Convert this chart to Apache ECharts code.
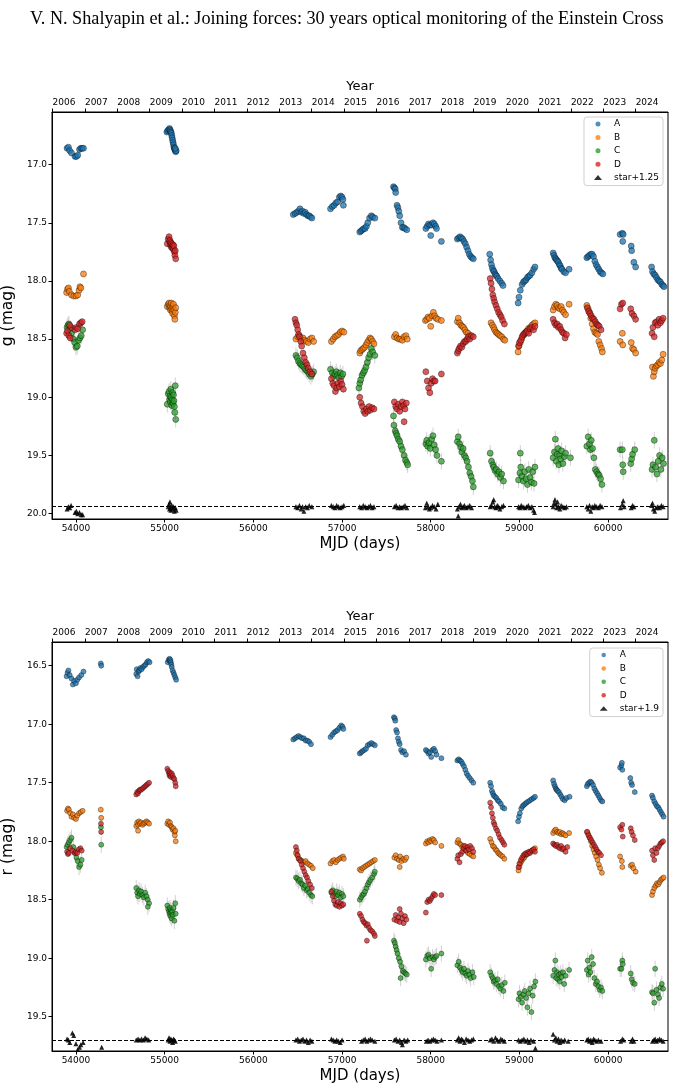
<!DOCTYPE html>
<html>
<head>
<meta charset="utf-8">
<script src="https://cdn.jsdelivr.net/npm/echarts@6/dist/echarts.min.js"></script>
<style>
html, body { margin: 0; padding: 0; background: #fff; }
#chart { width: 676px; height: 1092px; }
</style>
</head>
<body>
<div id="chart"></div>
<script>
// axis ticks
var mjdTicks = [54000, 55000, 56000, 57000, 58000, 59000, 60000];
var yearTicks = [53736, 54101, 54466, 54832, 55197, 55562, 55927, 56293, 56658, 57023, 57388, 57754, 58119, 58484, 58849, 59215, 59580, 59945, 60310];
var yearLabels = ['2006', '2007', '2008', '2009', '2010', '2011', '2012', '2013', '2014', '2015', '2016', '2017', '2018', '2019', '2020', '2021', '2022', '2023', '2024'];
var gTicks = [17.0, 17.5, 18.0, 18.5, 19.0, 19.5, 20.0];
var rTicks = [16.5, 17.0, 17.5, 18.0, 18.5, 19.0, 19.5];
var gStarLevel = 19.936;
var rStarLevel = 19.70;
// typical error bar half-lengths (A, B, C, D, star)
var gErr = [0.02, 0.025, 0.07, 0.03, 0.02];
var rErr = [0.015, 0.02, 0.07, 0.025, 0.015];

// g band  [MJD, mag]
var gA = [[53900,16.86],[53915,16.85],[53930,16.88],[53950,16.90],[53990,16.93],[54005,16.93],[54020,16.92],[54040,16.87],[54055,16.86],[54070,16.86],[54085,16.86],
  [55025,16.72],[55035,16.71],[55045,16.70],[55055,16.69],[55060,16.70],[55065,16.71],[55070,16.72],[55075,16.73],[55080,16.75],[55085,16.77],[55090,16.79],[55095,16.81],[55100,16.83],[55105,16.85],[55110,16.86],[55115,16.87],[55120,16.88],[55125,16.89],[55130,16.88],[55120,16.86],
  [56450,17.43],[56470,17.42],[56490,17.41],[56510,17.40],[56525,17.38],[56540,17.41],[56555,17.40],[56570,17.42],[56585,17.41],[56600,17.43],[56615,17.44],[56630,17.44],[56645,17.45],[56660,17.46],
  [56870,17.38],[56890,17.36],[56910,17.35],[56930,17.33],[56950,17.32],[56970,17.28],[56985,17.27],[57000,17.28],[57010,17.30],[57015,17.35],
  [57200,17.58],[57215,17.57],[57230,17.56],[57245,17.55],[57260,17.55],[57275,17.53],[57290,17.50],[57310,17.46],[57330,17.44],[57345,17.45],[57370,17.46],
  [57580,17.19],[57590,17.20],[57600,17.21],[57605,17.24],[57620,17.35],[57630,17.37],[57640,17.40],[57650,17.44],[57665,17.50],[57680,17.54],[57695,17.54],[57710,17.55],[57730,17.56],
  [57945,17.55],[57960,17.53],[57975,17.51],[57990,17.52],[58000,17.61],[58010,17.52],[58025,17.50],[58040,17.51],[58055,17.53],[58065,17.55],[58120,17.66],
  [58300,17.64],[58315,17.63],[58330,17.62],[58345,17.63],[58360,17.64],[58375,17.66],[58390,17.68],[58405,17.71],[58420,17.74],[58435,17.77],[58450,17.79],[58465,17.80],[58480,17.81],
  [58665,17.77],[58675,17.82],[58685,17.86],[58695,17.89],[58705,17.91],[58715,17.92],[58725,17.94],[58735,17.95],[58745,17.96],[58760,17.98],[58780,18.00],[58800,18.02],[58815,18.04],
  [58985,18.19],[58995,18.14],[59010,18.08],[59030,18.03],[59045,18.01],[59060,18.00],[59075,17.99],[59090,17.97],[59105,17.96],[59120,17.95],[59140,17.93],[59160,17.90],[59175,17.88],
  [59380,17.76],[59390,17.78],[59400,17.80],[59410,17.81],[59420,17.82],[59430,17.83],[59440,17.84],[59450,17.86],[59460,17.87],[59470,17.89],[59480,17.90],[59500,17.92],[59520,17.93],[59560,17.90],
  [59760,17.80],[59775,17.79],[59790,17.78],[59805,17.77],[59820,17.77],[59835,17.79],[59850,17.83],[59865,17.86],[59880,17.88],[59895,17.90],[59910,17.92],[59925,17.93],[59940,17.94],
  [60135,17.60],[60160,17.59],[60170,17.60],[60165,17.66],[60260,17.70],[60265,17.74],[60290,17.84],[60310,17.88],
  [60490,17.88],[60500,17.92],[60515,17.94],[60530,17.95],[60545,17.97],[60560,17.99],[60575,18.00],[60590,18.01],[60605,18.03],[60620,18.04],[60630,18.05]];

var gB = [[53895,18.10],[53905,18.07],[53915,18.06],[53925,18.09],[53950,18.12],[53975,18.13],[54000,18.13],[54020,18.12],[54035,18.08],[54045,18.05],[54055,18.06],[54085,17.94],
  [55030,18.22],[55040,18.20],[55050,18.19],[55055,18.23],[55060,18.21],[55065,18.25],[55070,18.22],[55075,18.19],[55080,18.24],[55085,18.26],[55090,18.28],[55095,18.22],[55100,18.20],[55105,18.25],[55110,18.30],[55115,18.33],[55120,18.27],[55125,18.23],
  [56480,18.50],[56500,18.48],[56520,18.47],[56540,18.50],[56560,18.49],[56580,18.51],[56600,18.52],[56620,18.53],[56640,18.50],[56660,18.49],[56680,18.52],
  [56880,18.52],[56900,18.50],[56920,18.48],[56940,18.47],[56960,18.46],[56980,18.44],[57000,18.43],[57020,18.44],
  [57200,18.62],[57210,18.60],[57225,18.59],[57240,18.58],[57255,18.57],[57270,18.55],[57285,18.53],[57300,18.51],[57315,18.49],[57330,18.50],[57345,18.52],[57360,18.54],
  [57590,18.48],[57605,18.46],[57620,18.49],[57640,18.50],[57660,18.50],[57680,18.51],[57700,18.48],[57720,18.47],[57735,18.50],
  [57940,18.34],[57955,18.33],[57970,18.31],[57985,18.32],[58000,18.39],[58015,18.30],[58030,18.27],[58045,18.30],[58060,18.32],[58080,18.33],[58120,18.34],
  [58300,18.35],[58310,18.32],[58325,18.36],[58340,18.38],[58355,18.39],[58370,18.40],[58385,18.42],[58400,18.44],[58420,18.45],[58440,18.47],
  [58680,18.36],[58695,18.38],[58710,18.40],[58720,18.42],[58735,18.44],[58750,18.45],[58765,18.46],[58780,18.47],[58800,18.48],[58820,18.50],[58835,18.51],
  [58985,18.61],[58995,18.56],[59010,18.53],[59025,18.50],[59040,18.47],[59055,18.46],[59070,18.44],[59085,18.43],[59100,18.41],[59120,18.40],[59140,18.38],[59160,18.37],[59175,18.36],
  [59380,18.25],[59395,18.22],[59410,18.20],[59425,18.21],[59440,18.23],[59455,18.24],[59470,18.22],[59485,18.25],[59500,18.27],[59520,18.29],[59560,18.20],
  [59760,18.21],[59775,18.24],[59790,18.27],[59805,18.32],[59820,18.37],[59835,18.41],[59850,18.44],[59865,18.45],[59880,18.46],[59895,18.52],[59910,18.55],[59925,18.58],[59935,18.61],
  [60135,18.52],[60160,18.45],[60165,18.55],[60260,18.53],[60275,18.58],[60290,18.59],[60310,18.62],
  [60500,18.74],[60510,18.82],[60520,18.78],[60530,18.75],[60545,18.73],[60560,18.72],[60575,18.70],[60590,18.71],[60605,18.68],[60620,18.63]];

var gC = [[53900,18.40],[53910,18.38],[53920,18.37],[53935,18.41],[53950,18.45],[53970,18.50],[53985,18.53],[54000,18.57],[54015,18.56],[54030,18.51],[54045,18.49],[54060,18.47],[54075,18.42],
  [55030,19.06],[55040,18.97],[55050,18.95],[55055,19.02],[55060,18.99],[55065,19.04],[55070,18.93],[55075,19.00],[55080,19.07],[55085,19.02],[55090,18.96],[55095,19.05],[55100,18.98],[55105,19.03],[55110,19.08],[55115,19.13],[55120,18.90],[55125,19.19],
  [56480,18.64],[56495,18.66],[56510,18.69],[56525,18.71],[56540,18.72],[56555,18.73],[56570,18.74],[56585,18.76],[56600,18.77],[56615,18.78],[56630,18.80],[56650,18.82],[56665,18.80],[56680,18.78],
  [56870,18.76],[56890,18.79],[56905,18.82],[56920,18.80],[56935,18.78],[56950,18.81],[56965,18.83],[56980,18.79],[56995,18.82],[57010,18.80],
  [57190,18.92],[57200,18.88],[57210,18.85],[57225,18.81],[57240,18.79],[57255,18.77],[57270,18.74],[57285,18.70],[57300,18.66],[57315,18.63],[57330,18.58],[57345,18.61],[57370,18.64],
  [57580,19.16],[57585,19.24],[57600,19.29],[57610,19.31],[57620,19.33],[57635,19.36],[57650,19.38],[57665,19.42],[57680,19.45],[57700,19.50],[57715,19.54],[57730,19.56],[57740,19.58],
  [57945,19.40],[57955,19.37],[57965,19.42],[57980,19.39],[57995,19.44],[58010,19.36],[58025,19.33],[58040,19.41],[58055,19.45],[58070,19.50],[58120,19.55],
  [58300,19.38],[58310,19.34],[58325,19.40],[58340,19.43],[58350,19.47],[58365,19.44],[58380,19.50],[58395,19.52],[58410,19.55],[58425,19.60],[58440,19.65],[58455,19.68],[58470,19.72],[58480,19.77],
  [58670,19.48],[58685,19.55],[58700,19.58],[58710,19.60],[58725,19.63],[58740,19.62],[58755,19.66],[58770,19.64],[58785,19.69],[58800,19.66],[58820,19.72],
  [58990,19.71],[59005,19.65],[59015,19.60],[59030,19.68],[59045,19.72],[59060,19.64],[59075,19.70],[59090,19.75],[59105,19.62],[59120,19.69],[59135,19.73],[59150,19.64],[59165,19.74],[59175,19.60],[59010,19.48],
  [59380,19.52],[59395,19.47],[59405,19.36],[59415,19.55],[59425,19.49],[59435,19.44],[59445,19.58],[59455,19.50],[59465,19.53],[59475,19.46],[59490,19.57],[59505,19.51],[59520,19.48],[59575,19.52],
  [59760,19.42],[59775,19.34],[59790,19.40],[59800,19.45],[59810,19.37],[59825,19.44],[59840,19.52],[59855,19.62],[59870,19.64],[59885,19.66],[59900,19.67],[59915,19.70],[59930,19.75],
  [60135,19.45],[60160,19.45],[60165,19.58],[60170,19.64],[60255,19.57],[60265,19.53],[60275,19.49],[60300,19.45],
  [60495,19.62],[60505,19.58],[60520,19.37],[60535,19.60],[60550,19.66],[60565,19.55],[60580,19.50],[60595,19.62],[60610,19.52],[60625,19.57]];

var gD = [[53895,18.45],[53905,18.43],[53920,18.47],[53935,18.49],[53950,18.40],[53990,18.42],[54005,18.40],[54020,18.41],[54040,18.37],[54055,18.36],[54070,18.35],[53930,18.38],
  [55030,17.68],[55040,17.64],[55050,17.62],[55055,17.66],[55060,17.65],[55065,17.69],[55070,17.67],[55075,17.71],[55080,17.68],[55085,17.70],[55090,17.72],[55095,17.69],[55100,17.73],[55105,17.70],[55110,17.75],[55115,17.78],[55120,17.74],[55125,17.81],
  [56470,18.33],[56480,18.36],[56490,18.38],[56500,18.42],[56510,18.46],[56520,18.48],[56535,18.52],[56545,18.56],[56560,18.62],[56575,18.66],[56590,18.70],[56605,18.72],[56620,18.75],[56640,18.78],[56660,18.80],
  [56880,18.84],[56895,18.88],[56910,18.90],[56925,18.95],[56940,18.92],[56955,18.88],[56970,18.91],[56985,18.86],[57000,18.89],[57015,18.93],
  [57200,19.00],[57215,19.05],[57230,19.08],[57245,19.12],[57260,19.14],[57275,19.10],[57290,19.12],[57305,19.08],[57320,19.11],[57340,19.09],[57360,19.10],
  [57590,19.04],[57605,19.08],[57620,19.10],[57635,19.06],[57650,19.12],[57665,19.08],[57680,19.04],[57695,19.07],[57710,19.10],[57725,19.05],[57700,19.21],
  [57945,18.78],[57960,18.86],[57975,18.92],[57990,18.96],[58005,18.88],[58020,18.84],[58035,18.86],[58050,18.86],[58120,18.80],
  [58300,18.62],[58310,18.60],[58320,18.58],[58335,18.56],[58350,18.57],[58365,18.54],[58380,18.52],[58395,18.52],[58410,18.50],[58425,18.48],[58440,18.50],[58460,18.47],[58480,18.48],
  [58670,17.98],[58680,18.02],[58690,18.07],[58700,18.12],[58710,18.15],[58720,18.18],[58735,18.21],[58750,18.24],[58765,18.27],[58780,18.29],[58795,18.31],[58810,18.34],[58830,18.37],
  [58990,18.56],[59000,18.53],[59015,18.51],[59030,18.48],[59045,18.46],[59060,18.45],[59075,18.44],[59090,18.43],[59105,18.45],[59120,18.41],[59140,18.40],[59160,18.42],[59175,18.39],
  [59380,18.33],[59395,18.36],[59410,18.38],[59425,18.37],[59440,18.40],[59455,18.39],[59470,18.42],[59485,18.44],[59500,18.45],[59515,18.49],[59530,18.46],
  [59765,18.23],[59780,18.26],[59795,18.28],[59810,18.30],[59825,18.32],[59840,18.33],[59855,18.35],[59870,18.37],[59885,18.38],[59900,18.39],[59920,18.42],
  [60135,18.24],[60150,18.20],[60165,18.19],[60255,18.24],[60270,18.28],[60290,18.30],[60310,18.33],
  [60495,18.45],[60505,18.40],[60520,18.48],[60530,18.36],[60545,18.35],[60560,18.38],[60575,18.33],[60590,18.36],[60605,18.34],[60620,18.32]];

var gStar = [[53900,19.96],[53915,19.94],[53930,19.95],[53945,19.93],[53990,19.99],[54005,19.98],[54020,20.00],[54040,19.99],[54060,20.01],[54075,20.01],
  [55040,19.94],[55050,19.92],[55055,19.96],[55060,19.90],[55065,19.95],[55070,19.97],[55080,19.93],[55090,19.96],[55100,19.94],[55110,19.98],[55120,19.95],[55130,19.97],
  [56480,19.94],[56500,19.95],[56520,19.93],[56540,19.96],[56555,19.94],[56570,19.98],[56590,19.94],[56610,19.95],[56630,19.93],[56660,19.94],
  [56880,19.93],[56900,19.94],[56920,19.95],[56940,19.93],[56960,19.94],[56980,19.95],[57000,19.94],[57020,19.93],
  [57200,19.94],[57220,19.95],[57240,19.93],[57260,19.94],[57280,19.95],[57300,19.94],[57320,19.93],[57340,19.95],[57360,19.94],
  [57590,19.94],[57610,19.93],[57630,19.95],[57650,19.94],[57670,19.95],[57690,19.94],[57710,19.93],[57730,19.95],
  [57940,19.95],[57955,19.91],[57970,19.94],[57985,19.96],[58000,19.95],[58020,19.93],[58040,19.94],[58060,19.96],[58080,19.92],
  [58300,19.96],[58310,20.02],[58320,19.94],[58335,19.92],[58350,19.95],[58365,19.94],[58380,19.93],[58400,19.95],[58420,19.94],[58440,19.93],[58460,19.95],
  [58670,19.94],[58685,19.93],[58700,19.90],[58710,19.88],[58720,19.94],[58735,19.95],[58750,19.93],[58765,19.94],[58780,19.96],[58800,19.94],[58820,19.93],
  [58990,19.94],[59005,19.95],[59020,19.93],[59040,19.94],[59060,19.95],[59080,19.94],[59100,19.93],[59120,19.95],[59140,19.94],[59160,19.97],[59170,19.99],
  [59380,19.94],[59390,19.91],[59400,19.88],[59410,19.92],[59420,19.95],[59430,19.90],[59440,19.94],[59455,19.96],[59470,19.93],[59490,19.94],[59510,19.95],[59530,19.94],
  [59760,19.94],[59775,19.96],[59790,19.93],[59805,19.98],[59820,19.94],[59835,19.95],[59850,19.93],[59870,19.94],[59890,19.95],[59910,19.93],[59930,19.94],
  [60140,19.95],[60160,19.92],[60170,19.89],[60180,19.94],[60260,19.95],[60275,19.93],[60290,19.94],
  [60490,19.93],[60500,19.91],[60510,19.96],[60525,19.98],[60540,19.95],[60560,19.94],[60580,19.95],[60600,19.93],[60620,19.94]];

// r band  [MJD, mag]
var rA = [[53895,16.59],[53905,16.56],[53915,16.54],[53930,16.58],[53950,16.61],[53965,16.66],[53980,16.63],[54000,16.65],[54015,16.62],[54035,16.60],[54060,16.58],[54085,16.55],
  [54280,16.48],[54285,16.50],
  [54680,16.57],[54685,16.53],[54695,16.59],[54705,16.55],[54715,16.54],[54725,16.52],[54740,16.53],[54755,16.51],[54770,16.50],[54785,16.49],[54800,16.47],[54815,16.46],[54830,16.47],
  [55035,16.47],[55045,16.45],[55055,16.44],[55060,16.46],[55065,16.45],[55070,16.47],[55075,16.49],[55080,16.51],[55090,16.54],[55100,16.56],[55110,16.58],[55120,16.60],[55130,16.62],
  [56450,17.13],[56470,17.12],[56490,17.11],[56510,17.10],[56530,17.11],[56550,17.12],[56570,17.12],[56590,17.14],[56610,17.14],[56630,17.15],[56650,17.17],
  [56870,17.11],[56890,17.09],[56910,17.07],[56930,17.06],[56950,17.05],[56970,17.03],[56990,17.01],[57005,17.02],[57015,17.04],
  [57200,17.25],[57215,17.24],[57230,17.23],[57250,17.22],[57270,17.21],[57290,17.18],[57310,17.17],[57330,17.16],[57350,17.17],[57370,17.18],
  [57585,16.94],[57595,16.95],[57600,16.97],[57610,17.05],[57620,17.07],[57630,17.12],[57640,17.15],[57650,17.17],[57665,17.22],[57680,17.24],[57700,17.23],[57720,17.26],
  [57945,17.22],[57960,17.23],[57975,17.25],[57990,17.24],[58005,17.28],[58020,17.22],[58035,17.21],[58050,17.23],[58065,17.26],[58120,17.29],
  [58300,17.31],[58315,17.30],[58330,17.31],[58345,17.32],[58360,17.34],[58375,17.36],[58390,17.39],[58405,17.42],[58420,17.44],[58440,17.46],[58460,17.48],[58480,17.50],
  [58670,17.50],[58680,17.53],[58690,17.57],[58700,17.59],[58710,17.61],[58725,17.62],[58740,17.63],[58755,17.65],[58770,17.66],[58790,17.68],[58810,17.71],[58830,17.72],
  [58985,17.83],[58995,17.79],[59005,17.76],[59020,17.72],[59035,17.70],[59050,17.69],[59065,17.68],[59080,17.67],[59100,17.66],[59120,17.65],[59140,17.64],[59160,17.63],[59175,17.62],
  [59380,17.48],[59390,17.51],[59400,17.53],[59410,17.55],[59420,17.56],[59430,17.57],[59445,17.58],[59460,17.60],[59475,17.62],[59490,17.64],[59510,17.65],[59530,17.63],[59565,17.62],
  [59760,17.53],[59770,17.51],[59785,17.50],[59800,17.49],[59815,17.50],[59830,17.52],[59845,17.55],[59860,17.57],[59875,17.59],[59890,17.61],[59905,17.63],[59920,17.65],[59935,17.66],
  [60135,17.37],[60150,17.35],[60155,17.33],[60160,17.39],[60250,17.46],[60260,17.50],[60270,17.52],[60300,17.58],
  [60495,17.61],[60505,17.63],[60520,17.66],[60535,17.68],[60550,17.70],[60565,17.71],[60580,17.73],[60595,17.75],[60610,17.77],[60625,17.79]];

var rB = [[53900,17.74],[53910,17.72],[53920,17.73],[53935,17.76],[53950,17.79],[53965,17.77],[53980,17.80],[54000,17.81],[54015,17.78],[54035,17.76],[54055,17.75],[54075,17.74],
  [54280,17.73],[54285,17.80],
  [54680,17.87],[54690,17.84],[54700,17.86],[54710,17.83],[54720,17.85],[54735,17.84],[54750,17.86],[54765,17.85],[54780,17.84],[54795,17.83],[54810,17.84],[54825,17.85],[54700,17.91],
  [55030,17.85],[55040,17.83],[55050,17.86],[55060,17.84],[55070,17.87],[55080,17.88],[55090,17.90],[55100,17.89],[55110,17.92],[55115,17.95],[55120,17.91],[55125,18.00],
  [56480,18.10],[56495,18.12],[56510,18.15],[56530,18.16],[56550,18.17],[56570,18.18],[56590,18.17],[56610,18.19],[56630,18.20],[56650,18.21],[56670,18.23],
  [56870,18.19],[56890,18.17],[56910,18.16],[56930,18.18],[56950,18.16],[56970,18.15],[56990,18.14],[57010,18.13],[57020,18.15],
  [57200,18.24],[57215,18.25],[57230,18.23],[57250,18.22],[57270,18.21],[57290,18.20],[57310,18.19],[57330,18.18],[57350,18.17],[57370,18.16],
  [57590,18.14],[57605,18.12],[57620,18.15],[57640,18.16],[57655,18.13],[57670,18.17],[57690,18.15],[57710,18.16],[57725,18.14],[57650,18.22],
  [57945,18.02],[57960,18.00],[57975,18.01],[57990,17.99],[58005,18.00],[58020,17.98],[58035,17.99],[58050,18.01],[58120,18.04],
  [58300,18.01],[58310,17.99],[58325,18.02],[58340,18.03],[58355,18.05],[58370,18.04],[58385,18.07],[58400,18.08],[58420,18.10],[58440,18.11],[58460,18.12],[58480,18.13],
  [58670,17.98],[58685,18.01],[58700,18.04],[58715,18.05],[58730,18.07],[58745,18.08],[58760,18.10],[58775,18.11],[58790,18.12],[58810,18.13],[58830,18.15],
  [58990,18.25],[59000,18.22],[59010,18.19],[59025,18.17],[59040,18.15],[59055,18.14],[59070,18.12],[59085,18.11],[59100,18.10],[59120,18.09],[59140,18.08],[59160,18.07],[59175,18.06],
  [59380,17.93],[59395,17.91],[59410,17.90],[59425,17.92],[59440,17.93],[59455,17.92],[59470,17.94],[59485,17.93],[59500,17.94],[59520,17.95],[59560,17.93],
  [59760,17.92],[59775,17.94],[59790,17.97],[59805,18.00],[59820,18.04],[59835,18.07],[59850,18.10],[59865,18.13],[59880,18.16],[59895,18.20],[59910,18.23],[59930,18.27],
  [60135,18.13],[60155,18.17],[60160,18.22],[60255,18.21],[60270,18.20],[60285,18.23],[60310,18.26],
  [60495,18.46],[60505,18.43],[60520,18.40],[60535,18.38],[60550,18.36],[60565,18.37],[60580,18.35],[60595,18.33],[60610,18.32],[60625,18.31]];

var rC = [[53895,18.05],[53905,18.03],[53920,18.01],[53935,17.99],[53950,17.97],[53970,18.05],[53990,18.10],[54005,18.14],[54020,18.17],[54035,18.22],[54050,18.20],[54065,18.16],
  [54282,17.88],[54285,18.03],
  [54680,18.40],[54690,18.44],[54700,18.47],[54710,18.42],[54720,18.45],[54735,18.43],[54750,18.46],[54765,18.48],[54780,18.44],[54795,18.47],[54810,18.50],[54825,18.53],[54810,18.56],
  [55030,18.55],[55040,18.58],[55050,18.60],[55055,18.62],[55060,18.57],[55065,18.64],[55070,18.59],[55075,18.61],[55080,18.66],[55085,18.60],[55090,18.63],[55100,18.57],[55110,18.68],[55120,18.53],[55125,18.62],
  [56480,18.31],[56495,18.32],[56510,18.34],[56525,18.33],[56540,18.36],[56555,18.37],[56570,18.40],[56585,18.38],[56600,18.42],[56615,18.41],[56630,18.44],[56650,18.46],[56665,18.47],
  [56880,18.44],[56895,18.42],[56910,18.45],[56925,18.47],[56940,18.43],[56955,18.46],[56970,18.44],[56985,18.48],[57000,18.45],[57015,18.47],
  [57200,18.50],[57215,18.48],[57230,18.46],[57245,18.45],[57260,18.43],[57275,18.40],[57290,18.37],[57305,18.35],[57320,18.33],[57340,18.31],[57360,18.28],[57370,18.26],
  [57585,18.85],[57595,18.87],[57605,18.90],[57615,18.93],[57625,18.96],[57640,19.00],[57655,19.03],[57670,19.07],[57685,19.11],[57700,19.12],[57715,19.13],[57730,19.14],[57660,19.17],
  [57945,19.01],[57960,18.98],[57975,18.97],[57990,19.00],[58005,19.09],[58020,18.99],[58035,19.01],[58050,18.99],[58065,18.98],[58120,18.96],
  [58300,19.06],[58315,19.03],[58330,19.08],[58345,19.10],[58360,19.12],[58375,19.09],[58390,19.13],[58405,19.15],[58420,19.11],[58435,19.14],[58450,19.17],[58470,19.12],[58485,19.16],
  [58670,19.12],[58685,19.15],[58700,19.17],[58710,19.20],[58725,19.19],[58740,19.22],[58755,19.18],[58770,19.24],[58785,19.26],[58800,19.23],[58820,19.28],[58835,19.21],
  [58990,19.35],[59000,19.30],[59015,19.33],[59030,19.38],[59045,19.31],[59060,19.28],[59075,19.34],[59090,19.42],[59105,19.30],[59120,19.26],[59135,19.46],[59150,19.32],[59165,19.24],[59180,19.20],
  [59380,19.15],[59395,19.10],[59405,19.02],[59415,19.17],[59425,19.12],[59435,19.18],[59445,19.14],[59455,19.20],[59465,19.13],[59475,19.16],[59490,19.12],[59505,19.22],[59520,19.15],[59560,19.10],
  [59760,19.10],[59770,19.02],[59780,19.14],[59790,19.08],[59800,19.12],[59815,18.99],[59830,19.05],[59845,19.17],[59860,19.22],[59875,19.20],[59890,19.24],[59905,19.27],[59920,19.25],[59935,19.28],
  [60135,19.09],[60150,19.09],[60160,19.02],[60165,19.05],[60255,19.13],[60265,19.18],[60280,19.21],[60300,19.22],
  [60495,19.29],[60505,19.30],[60520,19.38],[60530,19.09],[60545,19.27],[60560,19.31],[60575,19.34],[60590,19.25],[60605,19.22],[60620,19.26]];

var rD = [[53900,18.09],[53910,18.11],[53920,18.10],[53935,18.06],[53960,18.08],[53985,18.10],[54000,18.09],[54015,18.10],[54030,18.07],[54050,18.06],[54065,18.08],
  [54282,17.85],[54284,17.92],
  [54680,17.60],[54690,17.58],[54700,17.59],[54710,17.57],[54720,17.56],[54735,17.56],[54750,17.55],[54765,17.54],[54780,17.53],[54795,17.52],[54810,17.51],[54825,17.50],
  [55030,17.38],[55040,17.40],[55050,17.42],[55055,17.44],[55060,17.41],[55065,17.43],[55070,17.45],[55080,17.42],[55090,17.44],[55100,17.46],[55110,17.47],[55120,17.50],[55125,17.53],
  [56480,18.05],[56490,18.08],[56500,18.12],[56515,18.15],[56530,18.17],[56545,18.20],[56560,18.23],[56575,18.26],[56590,18.29],[56605,18.31],[56620,18.34],[56640,18.37],[56660,18.40],
  [56880,18.43],[56895,18.47],[56910,18.51],[56925,18.54],[56940,18.55],[56955,18.52],[56970,18.56],[56985,18.53],[57000,18.55],[57015,18.54],
  [57200,18.62],[57215,18.64],[57230,18.67],[57245,18.69],[57260,18.70],[57275,18.72],[57290,18.71],[57305,18.74],[57320,18.76],[57340,18.77],[57360,18.79],[57370,18.81],[57280,18.85],
  [57590,18.67],[57605,18.63],[57620,18.68],[57635,18.65],[57650,18.69],[57665,18.62],[57680,18.66],[57695,18.70],[57710,18.64],[57725,18.67],[57650,18.58],
  [57945,18.61],[57960,18.52],[57975,18.50],[57990,18.51],[58005,18.49],[58020,18.47],[58035,18.45],[58050,18.46],[58120,18.46],
  [58300,18.15],[58310,18.12],[58325,18.18],[58340,18.11],[58355,18.09],[58370,18.06],[58385,18.04],[58400,18.08],[58415,18.05],[58430,18.07],[58445,18.04],[58465,18.06],[58480,18.09],
  [58670,17.67],[58680,17.71],[58690,17.76],[58700,17.80],[58710,17.84],[58720,17.86],[58735,17.89],[58750,17.91],[58765,17.94],[58780,17.97],[58800,17.99],[58815,18.01],[58830,18.03],
  [58990,18.22],[59000,18.19],[59015,18.16],[59030,18.14],[59045,18.12],[59060,18.11],[59075,18.10],[59090,18.11],[59105,18.09],[59120,18.10],[59140,18.08],[59160,18.07],[59175,18.09],
  [59380,18.02],[59395,18.03],[59410,18.04],[59425,18.03],[59440,18.05],[59455,18.06],[59470,18.04],[59485,18.07],[59500,18.06],[59520,18.09],[59540,18.05],
  [59765,17.92],[59780,17.95],[59795,17.97],[59810,17.99],[59825,18.01],[59840,18.03],[59855,18.05],[59870,18.07],[59885,18.09],[59900,18.10],[59920,18.12],
  [60135,17.88],[60150,17.90],[60160,17.86],[60165,17.96],[60255,17.89],[60265,17.92],[60280,17.95],[60300,17.99],
  [60495,18.08],[60505,18.12],[60520,18.16],[60530,18.06],[60545,18.10],[60560,18.06],[60575,18.04],[60590,18.02],[60605,18.01],[60620,18.00]];

var rStar = [[53900,19.69],[53915,19.70],[53930,19.72],[53960,19.64],[53975,19.66],[54000,19.73],[54020,19.78],[54040,19.76],[54055,19.74],[54080,19.72],
  [54290,19.76],
  [54680,19.70],[54700,19.69],[54720,19.70],[54740,19.69],[54760,19.70],[54780,19.68],[54800,19.69],[54820,19.70],
  [55040,19.70],[55050,19.68],[55060,19.71],[55070,19.69],[55080,19.70],[55090,19.72],[55100,19.69],[55110,19.70],[55120,19.71],
  [56480,19.70],[56500,19.69],[56520,19.71],[56540,19.70],[56560,19.69],[56580,19.71],[56600,19.70],[56620,19.72],[56640,19.70],[56660,19.71],
  [56880,19.69],[56900,19.70],[56920,19.71],[56940,19.70],[56960,19.71],[56980,19.72],[57000,19.70],
  [57220,19.71],[57240,19.70],[57260,19.69],[57280,19.71],[57300,19.70],[57320,19.69],[57340,19.70],[57370,19.71],
  [57590,19.70],[57610,19.69],[57630,19.71],[57650,19.70],[57670,19.72],[57680,19.74],[57700,19.70],[57720,19.71],[57740,19.70],
  [57950,19.71],[57970,19.70],[57990,19.71],[58010,19.70],[58030,19.69],[58050,19.70],[58070,19.71],[58120,19.70],
  [58300,19.70],[58315,19.68],[58330,19.71],[58345,19.69],[58360,19.70],[58380,19.72],[58400,19.69],[58420,19.70],[58440,19.71],[58460,19.70],[58480,19.69],
  [58670,19.70],[58690,19.69],[58710,19.71],[58730,19.68],[58750,19.70],[58770,19.71],[58790,19.69],[58810,19.70],[58830,19.71],
  [58990,19.70],[59010,19.71],[59030,19.70],[59050,19.69],[59070,19.71],[59090,19.70],[59110,19.72],[59130,19.70],[59160,19.71],[59180,19.77],
  [59380,19.65],[59395,19.70],[59410,19.68],[59425,19.71],[59440,19.69],[59455,19.72],[59470,19.70],[59490,19.71],[59510,19.70],[59550,19.71],
  [59760,19.70],[59775,19.69],[59790,19.71],[59805,19.70],[59820,19.72],[59835,19.69],[59850,19.70],[59870,19.71],[59890,19.70],[59920,19.71],
  [60140,19.71],[60160,19.69],[60175,19.70],[60260,19.71],[60275,19.69],[60290,19.71],
  [60500,19.71],[60515,19.70],[60530,19.69],[60545,19.71],[60560,19.70],[60580,19.69],[60600,19.70],[60620,19.71]];

var names = ['A', 'B', 'C', 'D'];
var colors = ['#1f77b4', '#ff7f0e', '#2ca02c', '#d62728'];
var font = 'DejaVu Sans';

function errbars(data, err, gi) {
  return {
    type: 'custom', xAxisIndex: gi * 2, yAxisIndex: gi, silent: true, z: 1, clip: true,
    data: data, encode: { x: 0, y: 1 },
    renderItem: function (params, api) {
      var x = api.value(0), y = api.value(1);
      var p1 = api.coord([x, y - err]), p2 = api.coord([x, y + err]);
      return { type: 'line', shape: { x1: p1[0], y1: p1[1], x2: p2[0], y2: p2[1] },
        style: { stroke: 'rgba(140,140,140,0.4)', lineWidth: 1 } };
    }
  };
}

function points(name, data, color, gi, size) {
  return {
    type: 'scatter', name: name, xAxisIndex: gi * 2, yAxisIndex: gi, z: 2,
    data: data, symbol: 'circle', symbolSize: size,
    itemStyle: { color: color, opacity: 0.75, borderColor: '#000', borderWidth: 0.5 },
    emphasis: { disabled: true }
  };
}

function star(name, data, gi, level) {
  return {
    type: 'scatter', name: name, xAxisIndex: gi * 2, yAxisIndex: gi, z: 3,
    data: data, symbol: 'triangle', symbolSize: 5,
    itemStyle: { color: '#000', opacity: 0.85 },
    emphasis: { disabled: true },
    markLine: { silent: true, symbol: 'none', label: { show: false },
      lineStyle: { color: '#000', type: [4, 2], width: 1 },
      data: [{ yAxis: level }] }
  };
}

function mjdAxis(gi) {
  return {
    type: 'value', gridIndex: gi, position: 'bottom', min: 53730, max: 60675,
    axisLine: { show: true, onZero: false, lineStyle: { color: '#000', width: 1 } },
    axisTick: { show: true, customValues: mjdTicks, length: 3.5, lineStyle: { color: '#000' } },
    axisLabel: { customValues: mjdTicks, fontSize: 9, color: '#000', margin: 5, fontFamily: font,
      formatter: function (v) { return String(v); } },
    splitLine: { show: false },
    name: 'MJD (days)', nameLocation: 'middle', nameGap: 18,
    nameTextStyle: { fontSize: 15, color: '#000', fontFamily: font }
  };
}

function yearAxis(gi) {
  return {
    type: 'value', gridIndex: gi, position: 'top', min: 53730, max: 60675,
    axisLine: { show: true, onZero: false, lineStyle: { color: '#000', width: 1 } },
    axisTick: { show: true, customValues: yearTicks, length: 3.5, lineStyle: { color: '#000' } },
    axisLabel: { customValues: yearTicks, fontSize: 9, color: '#000', margin: 5, fontFamily: font, align: 'left',
      formatter: function (v) { var i = yearTicks.indexOf(v); return i >= 0 ? yearLabels[i] : ''; } },
    splitLine: { show: false },
    name: 'Year', nameLocation: 'middle', nameGap: 19,
    nameTextStyle: { fontSize: 13, color: '#000', fontFamily: font }
  };
}

function magAxis(gi, min, max, ticks, label) {
  return {
    type: 'value', gridIndex: gi, inverse: true, min: min, max: max,
    axisLine: { show: true, onZero: false, lineStyle: { color: '#000', width: 1 } },
    axisTick: { show: true, customValues: ticks, length: 3.5, lineStyle: { color: '#000' } },
    axisLabel: { customValues: ticks, fontSize: 9, color: '#000', margin: 5, fontFamily: font,
      formatter: function (v) { return v.toFixed(1); } },
    splitLine: { show: false },
    name: label, nameLocation: 'middle', nameGap: 27,
    nameTextStyle: { fontSize: 15.5, color: '#000', fontFamily: font }
  };
}

function legend(top, starName, size) {
  var d = names.map(function (n) { return { name: n, icon: 'circle' }; });
  d.push({ name: starName, icon: 'triangle' });
  return {
    orient: 'vertical', right: 13, top: top, data: d, selectedMode: false,
    itemWidth: 8, itemHeight: size, itemGap: 3.4, padding: [2, 4, 3, 10],
    itemStyle: { borderWidth: 0, opacity: 0.8 },
    borderColor: '#d0d0d0', borderWidth: 1, borderRadius: 3, backgroundColor: 'rgba(255,255,255,0.8)',
    textStyle: { fontSize: 9, color: '#000', fontFamily: font, lineHeight: 10, padding: [0, 0, 0, 7] }
  };
}

var gData = [gA, gB, gC, gD];
var rData = [rA, rB, rC, rD];
var series = [];
gData.forEach(function (d, i) { series.push(errbars(d, gErr[i], 0)); });
series.push(errbars(gStar, gErr[4], 0));
rData.forEach(function (d, i) { series.push(errbars(d, rErr[i], 1)); });
series.push(errbars(rStar, rErr[4], 1));
gData.forEach(function (d, i) { series.push(points(names[i], d, colors[i], 0, 6)); });
series.push(star('star+1.25', gStar, 0, gStarLevel));
rData.forEach(function (d, i) { series.push(points(names[i], d, colors[i], 1, 5)); });
series.push(star('star+1.9', rStar, 1, rStarLevel));

var chart = echarts.init(document.getElementById('chart'), null, { renderer: 'canvas' });
chart.setOption({
  animation: false,
  backgroundColor: '#fff',
  title: {
    text: 'V. N. Shalyapin et al.: Joining forces: 30 years optical monitoring of the Einstein Cross',
    left: 25, top: 5,
    textStyle: { fontFamily: 'Liberation Serif', fontSize: 18.2, fontWeight: 'normal', color: '#000' }
  },
  legend: [legend(117, 'star+1.25', 5), legend(648, 'star+1.9', 4.5)],
  grid: [
    { left: 52, right: 8, top: 112, height: 407, show: true, borderColor: '#000', borderWidth: 1, containLabel: false, outerBoundsMode: 'none' },
    { left: 52, right: 8, top: 642, height: 409, show: true, borderColor: '#000', borderWidth: 1, containLabel: false, outerBoundsMode: 'none' }
  ],
  xAxis: [mjdAxis(0), yearAxis(0), mjdAxis(1), yearAxis(1)],
  yAxis: [magAxis(0, 16.548, 20.046, gTicks, 'g (mag)'), magAxis(1, 16.297, 19.793, rTicks, 'r (mag)')],
  series: series
});
</script>
</body>
</html>
